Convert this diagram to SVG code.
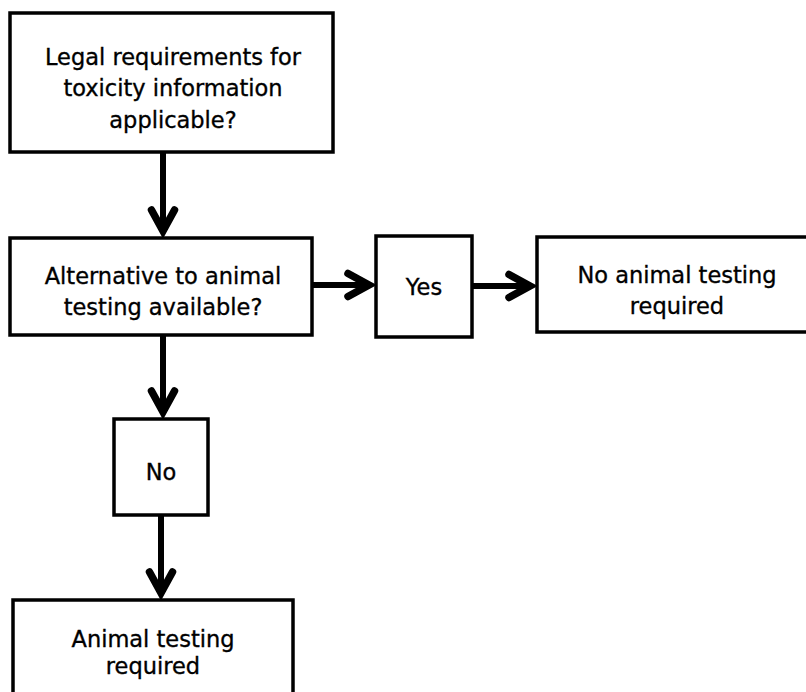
<svg xmlns="http://www.w3.org/2000/svg" width="806" height="692" viewBox="0 0 806 692">
  <style>
    .box { fill: #ffffff; stroke: #000000; stroke-width: 3.5; }
    .lbl { font-family: "DejaVu Sans", Verdana, sans-serif; font-size: 22.5px; fill: #000000; stroke: #000000; stroke-width: 0.35; text-anchor: middle; }
    .conn { stroke: #000000; stroke-width: 6; fill: none; marker-end: url(#chev); }
  </style>
  <defs>
    <marker id="chev" markerUnits="userSpaceOnUse" viewBox="-30 -20 44 40" refX="0" refY="0" markerWidth="44" markerHeight="40" orient="auto" overflow="visible">
      <path d="M-19,-11.5 L2,0 L-19,11.5" fill="none" stroke="#000000" stroke-width="7.5" stroke-linejoin="miter" stroke-linecap="round"/>
    </marker>
  </defs>
  <rect width="806" height="692" fill="#ffffff"/>

  <g id="connectors">
    <line class="conn" x1="163" y1="152" x2="163" y2="229"/>
    <line class="conn" x1="312" y1="285" x2="367" y2="285"/>
    <line class="conn" x1="472" y1="286" x2="528" y2="286"/>
    <line class="conn" x1="163" y1="335" x2="163" y2="410"/>
    <line class="conn" x1="161" y1="515" x2="161" y2="591"/>
  </g>

  <g id="n-legal">
    <rect class="box" x="10" y="13" width="323" height="139"/>
    <text class="lbl" x="173" y="65">Legal requirements for</text>
    <text class="lbl" x="173" y="96">toxicity information</text>
    <text class="lbl" x="173" y="128">applicable?</text>
  </g>

  <g id="n-alternative">
    <rect class="box" x="10" y="238" width="302" height="97"/>
    <text class="lbl" x="163" y="284">Alternative to animal</text>
    <text class="lbl" x="163" y="315">testing available?</text>
  </g>

  <g id="n-yes">
    <rect class="box" x="376" y="236" width="96" height="101"/>
    <text class="lbl" x="424" y="295">Yes</text>
  </g>

  <g id="n-no-testing">
    <rect class="box" x="537" y="237" width="285" height="95"/>
    <text class="lbl" x="677" y="283">No animal testing</text>
    <text class="lbl" x="677" y="314">required</text>
  </g>

  <g id="n-no">
    <rect class="box" x="114" y="419" width="94" height="96"/>
    <text class="lbl" x="161" y="480">No</text>
  </g>

  <g id="n-testing">
    <rect class="box" x="13" y="600" width="280" height="100"/>
    <text class="lbl" x="153" y="647">Animal testing</text>
    <text class="lbl" x="153" y="674">required</text>
  </g>
</svg>
